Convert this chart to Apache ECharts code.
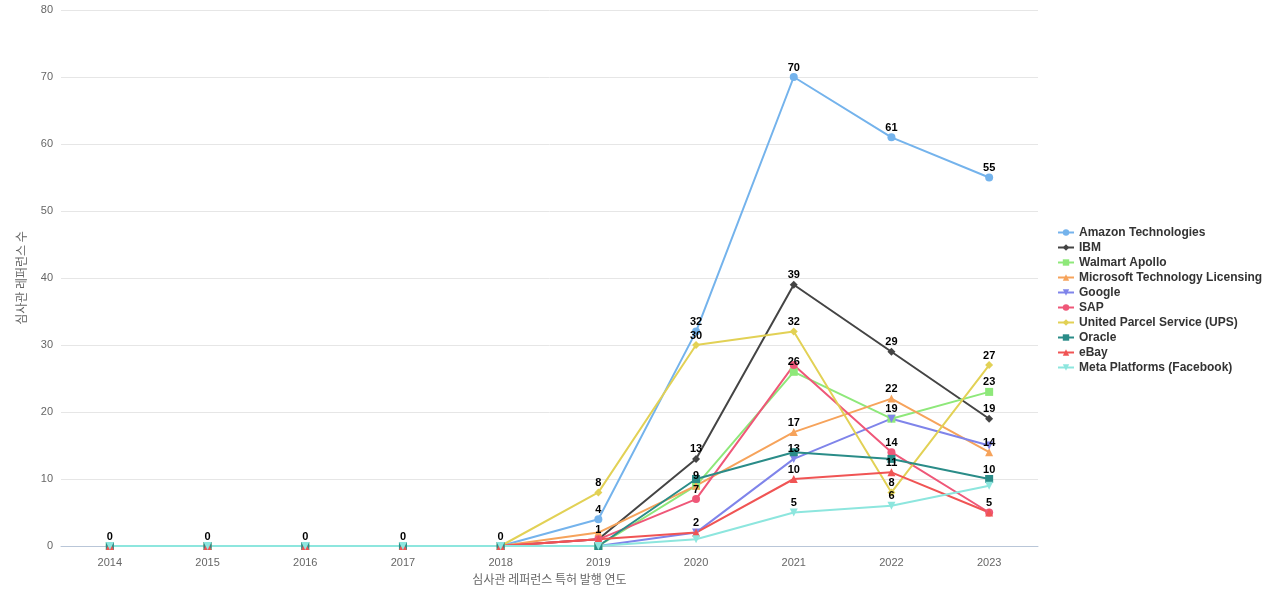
<!DOCTYPE html>
<html><head><meta charset="utf-8">
<script src="https://cdn.jsdelivr.net/npm/echarts@6/dist/echarts.min.js"></script>
<style>html,body{margin:0;padding:0;background:#fff}#c{width:1280px;height:600px}</style>
</head><body><div id="c"></div>
<script>
const years = ['2014','2015','2016','2017','2018','2019','2020','2021','2022','2023'];
const seriesNames = ['Amazon Technologies','IBM','Walmart Apollo','Microsoft Technology Licensing','Google','SAP','United Parcel Service (UPS)','Oracle','eBay','Meta Platforms (Facebook)'];
const amazon    = [0,0,0,0,0,4,32,70,61,55];
const ibm       = [0,0,0,0,0,1,13,39,29,19];
const walmart   = [0,0,0,0,0,0,9,26,19,23];
const microsoft = [0,0,0,0,0,2,9,17,22,14];
const google    = [0,0,0,0,0,0,2,13,19,15];
const sap       = [0,0,0,0,0,1,7,27,14,5];
const ups       = [0,0,0,0,0,8,30,32,8,27];
const oracle    = [0,0,0,0,0,0,10,14,13,10];
const ebay      = [0,0,0,0,0,1,2,10,11,5];
const meta      = [0,0,0,0,0,0,1,5,6,9];
const values = [amazon, ibm, walmart, microsoft, google, sap, ups, oracle, ebay, meta];
const colors = ['#74b3ec','#444444','#8ee87a','#f6a35b','#7f84ea','#ef5778','#e2d155','#2a8c88','#f05454','#8de6de'];
const symbols = ['circle','diamond','rect','triangle','triangle','circle','diamond','rect','triangle','triangle'];
const rotates = [0,0,0,0,180,0,0,0,0,180];

const chart = echarts.init(document.getElementById('c'));
chart.setOption({
  animation:false,
  color: colors,
  grid:{left:61,right:242,top:10,bottom:54},
  legend:{
    orient:'vertical', left:1052, top:'middle',
    itemWidth:16, itemHeight:8, itemGap:3,
    textStyle:{fontWeight:'bold', color:'#333', fontSize:12, fontFamily:'Arial, Liberation Sans, sans-serif'},
    data: seriesNames
  },
  xAxis:{
    type:'category', data:years, boundaryGap:true,
    name:'심사관 레퍼런스 특허 발행 연도', nameLocation:'middle', nameGap:27,
    nameTextStyle:{color:'#666', fontSize:12, fontFamily:'Noto Sans CJK KR'},
    axisLine:{lineStyle:{color:'#b9c6d8'}}, axisTick:{show:false},
    axisLabel:{color:'#666', fontSize:11, margin:11}
  },
  yAxis:{
    type:'value', min:0, max:80, interval:10,
    name:'심사관 레퍼런스 수', nameLocation:'middle', nameGap:34, nameRotate:90,
    nameTextStyle:{color:'#666', fontSize:12, fontFamily:'Noto Sans CJK KR'},
    axisLabel:{color:'#666', fontSize:11, padding:[4,0,0,0]},
    splitLine:{lineStyle:{color:'#e6e6e6'}}
  },
  series: seriesNames.map((n,i)=>({
    name:n, type:'line', data:values[i],
    symbol:symbols[i], symbolSize:8, symbolRotate:rotates[i],
    lineStyle:{width:2}, itemStyle:{color:colors[i]},
    label:{show:true, position:'top', color:'#000', fontWeight:'bold', fontSize:11, distance:0},
    labelLayout:{hideOverlap:true}
  }))
});
</script></body></html>
